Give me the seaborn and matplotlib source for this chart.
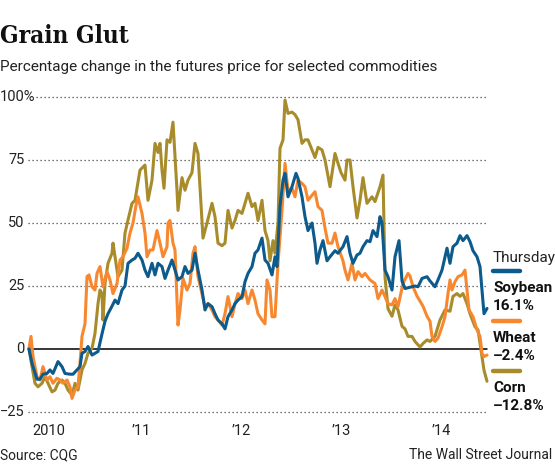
import matplotlib
matplotlib.use('Agg')
import matplotlib.pyplot as plt
from matplotlib.lines import Line2D
import seaborn as sns
import pandas as pd

# decimal years / percent change since start of 2010
soy_t = [2010.00, 2010.03, 2010.08, 2010.11, 2010.14, 2010.18, 2010.21, 2010.24, 2010.29, 2010.33,
         2010.36, 2010.41, 2010.44, 2010.48, 2010.51, 2010.53, 2010.56, 2010.59, 2010.63, 2010.66,
         2010.69, 2010.73, 2010.76, 2010.79, 2010.83, 2010.86, 2010.89, 2010.93, 2010.96, 2010.99,
         2011.03, 2011.06, 2011.09, 2011.13, 2011.16, 2011.19, 2011.23, 2011.26, 2011.29, 2011.33,
         2011.36, 2011.39, 2011.43, 2011.46, 2011.49, 2011.53, 2011.56, 2011.59, 2011.63, 2011.66,
         2011.69, 2011.73, 2011.76, 2011.79, 2011.83, 2011.86, 2011.89, 2011.93, 2011.96, 2011.99,
         2012.03, 2012.06, 2012.09, 2012.13, 2012.16, 2012.19, 2012.23, 2012.26, 2012.29, 2012.33,
         2012.36, 2012.39, 2012.43, 2012.46, 2012.48, 2012.51, 2012.54, 2012.56, 2012.59, 2012.63,
         2012.67, 2012.69, 2012.73, 2012.76, 2012.79, 2012.83, 2012.86, 2012.88, 2012.91, 2012.94,
         2012.98,
         2013.01, 2013.06, 2013.09, 2013.14, 2013.18, 2013.21, 2013.24, 2013.28, 2013.31, 2013.34,
         2013.38, 2013.41, 2013.44, 2013.48, 2013.51, 2013.53, 2013.56, 2013.59, 2013.63, 2013.66,
         2013.70, 2013.73, 2013.76, 2013.81, 2013.86, 2013.89, 2013.93, 2013.98,
         2014.01, 2014.06, 2014.09, 2014.13, 2014.16, 2014.18, 2014.21, 2014.24, 2014.28, 2014.31,
         2014.34, 2014.38, 2014.41, 2014.44, 2014.48, 2014.51, 2014.53, 2014.55, 2014.58]
soy_v = [0, -5.7, -12, -12, -10, -9.7, -8.3, -9.7, -5, -7,
         -9.7, -10, -10, -8.3, -7, -1.7, -1, 1, -2.4, -1.7,
         -1, 6, 11, 14, 17, 19.4, 18, 23.4, 25, 34,
         35.3, 36, 38, 35.3, 31.3, 28.7, 34, 29.4, 34, 32.7,
         28, 31.3, 35.3, 31.3, 27.4, 28.7, 32.7, 30, 31.3, 38,
         31.3, 23.4, 15.5, 18, 16.8, 14, 11.5, 10, 8, 12.8,
         15.5, 18, 19.4, 20.8, 26.7, 30, 32.7, 38, 39.3, 44,
         35.3, 34, 29.4, 36.6, 32.7, 56.5, 67, 69.7, 60.4, 64.4,
         69.7, 67.7, 60.4, 52.5, 47, 50, 42, 34, 39.3, 43,
         35,
         36.6, 39, 38, 40.6, 44.6, 38, 34, 37.3, 38, 40.6,
         43, 42.6, 47, 44.6, 52.5, 50, 31.3, 28.7, 23.4, 36.6,
         43, 27, 24, 24.5, 25, 24.7, 28, 28.7,
         27, 24.7, 27.4, 31.3, 36.6, 40, 34, 40.6, 42, 45,
         43, 45, 42.6, 39, 36.6, 32.7, 23.4, 14, 16.1]

wheat_t = [2010.00, 2010.02, 2010.04, 2010.08, 2010.11, 2010.14, 2010.18, 2010.21, 2010.24, 2010.28,
           2010.31, 2010.34, 2010.38, 2010.41, 2010.43, 2010.46, 2010.49, 2010.51, 2010.53, 2010.56,
           2010.58, 2010.60, 2010.63, 2010.66, 2010.68, 2010.71, 2010.74, 2010.78, 2010.81, 2010.84,
           2010.88, 2010.91, 2010.94, 2010.98,
           2011.01, 2011.04, 2011.07, 2011.09, 2011.13, 2011.16, 2011.18, 2011.21, 2011.24, 2011.28,
           2011.31, 2011.34, 2011.38, 2011.39, 2011.41, 2011.44, 2011.46, 2011.49, 2011.51,
           2011.54, 2011.58, 2011.61, 2011.64, 2011.66, 2011.69, 2011.73, 2011.76, 2011.79, 2011.83,
           2011.86, 2011.89, 2011.93, 2011.96, 2011.99,
           2012.03, 2012.06, 2012.09, 2012.13, 2012.16, 2012.19, 2012.23, 2012.26, 2012.29, 2012.33,
           2012.36, 2012.38, 2012.41, 2012.43, 2012.46, 2012.49, 2012.53, 2012.56, 2012.59, 2012.63,
           2012.66, 2012.69, 2012.73, 2012.76, 2012.79, 2012.83, 2012.86, 2012.89, 2012.93, 2012.96,
           2012.99,
           2013.03, 2013.06, 2013.09, 2013.14, 2013.16, 2013.19, 2013.23, 2013.26, 2013.29, 2013.33,
           2013.36, 2013.41, 2013.46, 2013.49, 2013.53, 2013.56, 2013.59, 2013.63, 2013.66, 2013.69,
           2013.74, 2013.79, 2013.81, 2013.84, 2013.88, 2013.91, 2013.94, 2013.98,
           2014.01, 2014.03, 2014.06, 2014.09, 2014.13, 2014.16, 2014.19, 2014.21, 2014.23, 2014.26,
           2014.29, 2014.33, 2014.36, 2014.38, 2014.40, 2014.44, 2014.48, 2014.51, 2014.53, 2014.55,
           2014.58]
wheat_v = [0.3, 5, -3, -11, -12.3, -7, -12.3, -11, -13.6, -11.6,
           -12.3, -13.6, -12.3, -15, -19.6, -16.3, -15, -5.7, 5, 10,
           28.7, 29.4, 24.7, 23.4, 30, 32.7, 24.7, 30.7, 27.4, 22,
           26, 35.3, 36.6, 40,
           46, 50, 57, 60.4, 53.8, 46, 36.6, 39.3, 39.3, 47,
           42, 36.6, 40.6, 50, 51, 42, 39.3, 9.5, 15.5,
           28, 23.4, 26, 38, 40.6, 28.7, 22, 16.8, 18, 15.5,
           12.8, 11.5, 9.5, 14, 20.8,
           12.8, 18, 22, 20, 23.4, 18, 23.4, 19.4, 14, 11.5,
           10, 27.4, 23.4, 12.8, 12.8, 34, 55, 73.7, 63, 63.8,
           60.4, 67, 65.7, 64.4, 59, 61, 62.4, 56.5, 55, 48,
           42,
           42, 46, 40.6, 35, 31.3, 27.4, 34, 27.4, 30.7, 28.7,
           30, 27.4, 26, 20, 23.4, 20.8, 18, 17.5, 20, 16.8,
           26, 30, 29, 24.7, 21, 19, 17, 13,
           11, 5, 3, 4.3, 8.8, 12.8, 22, 27.4, 23.4, 26.7,
           28.7, 29.4, 31.3, 23.4, 15.5, 12.8, 7.6, 5, -1.7, -3,
           -2.4]

corn_t = [2010.00, 2010.03, 2010.06, 2010.09, 2010.13, 2010.16, 2010.19, 2010.23, 2010.26, 2010.29,
          2010.33, 2010.36, 2010.39, 2010.43, 2010.46, 2010.49, 2010.53, 2010.56, 2010.59, 2010.63,
          2010.66, 2010.69, 2010.71, 2010.73, 2010.74, 2010.76, 2010.79, 2010.83, 2010.84, 2010.86,
          2010.89, 2010.93, 2010.96, 2010.99,
          2011.03, 2011.06, 2011.11, 2011.16, 2011.19, 2011.23, 2011.26, 2011.29, 2011.31, 2011.33,
          2011.35, 2011.38, 2011.41, 2011.44, 2011.48, 2011.49, 2011.53, 2011.56, 2011.59, 2011.63,
          2011.66, 2011.69, 2011.71, 2011.74, 2011.78, 2011.83, 2011.86, 2011.89, 2011.93, 2011.96,
          2011.99,
          2012.03, 2012.06, 2012.09, 2012.13, 2012.16, 2012.19, 2012.23, 2012.26, 2012.29, 2012.33,
          2012.36, 2012.39, 2012.41, 2012.44, 2012.46, 2012.49, 2012.51, 2012.54, 2012.56, 2012.59,
          2012.63, 2012.66, 2012.69, 2012.73, 2012.76, 2012.79, 2012.83, 2012.86, 2012.89, 2012.93,
          2012.96,
          2013.01, 2013.06, 2013.09, 2013.12, 2013.16, 2013.18, 2013.21, 2013.24, 2013.28, 2013.31,
          2013.34, 2013.38, 2013.43, 2013.46, 2013.51, 2013.54, 2013.56, 2013.59, 2013.63, 2013.66,
          2013.69, 2013.73, 2013.76, 2013.79, 2013.83, 2013.86, 2013.91, 2013.94, 2013.98,
          2014.01, 2014.06, 2014.11, 2014.16, 2014.21, 2014.24, 2014.28, 2014.31, 2014.34, 2014.38,
          2014.41, 2014.46, 2014.49, 2014.53, 2014.55, 2014.58]
corn_v = [0, -7, -13.6, -15, -13.6, -11, -13.6, -17, -16.3, -13.6,
          -12.3, -13.6, -16.3, -18.3, -13.6, -16.3, -8.3, -5.7, -1.7, 0.3,
          6.2, 18, 23.4, 22, 11.5, 26, 34, 38, 42, 36.6,
          28.7, 31.3, 46, 51.2,
          57.8, 59, 71, 73, 59, 67, 81.6, 78, 81.6, 71,
          63.8, 83, 82, 90, 63, 55, 68, 63, 67, 70,
          81.6, 77.6, 64.4, 44, 50, 57.8, 52.5, 42, 41, 42,
          55,
          48, 51, 55, 53.8, 57.8, 61.8, 56.5, 57.8, 51, 59,
          47, 43, 35, 43, 38, 50, 79.6, 83, 98.8, 93.5,
          94, 93, 91, 81.6, 83, 83, 79, 76, 80, 79,
          75,
          64.4, 77.6, 73.7, 70, 67, 75, 75, 64.4, 52, 59,
          68, 57.8, 60.4, 58.5, 64.4, 69, 28.7, 16, 13, 17.5,
          15.5, 9, 8, 5, 5, 3, 0.8, 2.2, 3.6,
          3, 5, 11.5, 15.5, 15, 20.9, 22, 20.9, 22, 18,
          14, 8.8, 7.6, -3, -8.4, -12.8]

commodities = ['Soybean', 'Wheat', 'Corn']
colors = {'Soybean': '#0c5b8c', 'Wheat': '#f7882f', 'Corn': '#a88c2b'}
years = [2010, 2011, 2012, 2013, 2014]
year_labels = ['2010', '\u201911', '\u201912', '\u201913', '\u201914']
grid_levels = [-25, 25, 50, 75, 100]
y_labels = ['\u221225', '25', '50', '75', '100%']

df = pd.concat([
    pd.DataFrame({'t': soy_t, 'pct': soy_v, 'name': 'Soybean'}),
    pd.DataFrame({'t': wheat_t, 'pct': wheat_v, 'name': 'Wheat'}),
    pd.DataFrame({'t': corn_t, 'pct': corn_v, 'name': 'Corn'}),
])

sns.set_style('white')
plt.rcParams['font.family'] = ['Roboto', 'DejaVu Sans']

W, H = 555, 466
fig = plt.figure(figsize=(W / 100, H / 100), dpi=100)
ax = fig.add_axes([28 / W, (H - 412) / H, (487 - 28) / W, (412 - 97) / H])

for lv in grid_levels:
    xmin = 0.017 if lv == 100 else 0
    ax.axhline(lv, xmin=xmin, color='#444444', lw=0.9, ls=(0, (1, 2.2)), zorder=1)
ax.axhline(0, color='black', lw=1.1, zorder=2)

sns.lineplot(data=df, x='t', y='pct', hue='name', hue_order=['Corn', 'Wheat', 'Soybean'],
             palette=colors, estimator=None, sort=False, lw=2.2, legend=False, ax=ax, zorder=3)
for ln in ax.lines:
    ln.set_clip_on(False)

ax.set_xlim(2009.99, 2014.58)
ax.set_ylim(-25, 100)
sns.despine(ax=ax, left=True, bottom=True, top=True, right=True)
ax.set_xlabel('')
ax.set_ylabel('')
ax.set_yticks([])
ax.set_xticks(years)
ax.set_xticklabels([])
ax.tick_params(axis='x', direction='out', length=15, width=1.3, color='#222222')
ax.set_xticks(years[:1], minor=True)
ax.tick_params(axis='x', which='minor', length=15, width=1.8, color='#222222')

for yr, lab in zip(years, year_labels):
    ax.text(yr + 0.03, -32.5, lab, ha='left', va='center', fontsize=10.5, color='#222222',
            clip_on=False)
for lv, lab in zip(grid_levels, y_labels):
    if lv == 100:
        ax.text(-0.061, lv, lab, transform=ax.get_yaxis_transform(), ha='left', va='center',
                fontsize=10.5, color='#222222')
    else:
        ax.text(-0.007, lv, lab, transform=ax.get_yaxis_transform(), ha='right', va='center',
                fontsize=10.5, color='#222222')
ax.text(-0.007, 0, '0', transform=ax.get_yaxis_transform(), ha='right', va='center',
        fontsize=10.5, color='#222222')

fig.text(0, 1 - 36 / H, 'Grain Glut', ha='left', va='center', fontsize=17.5, fontweight='heavy',
         family='DejaVu Serif', fontstretch='condensed', color='#111111')
fig.text(0, 1 - 67 / H, 'Percentage change in the futures price for selected commodities',
         ha='left', va='center', fontsize=11, color='#222222')

# legend block at right
lx = 493 / W
fig.text(lx, 1 - 258 / H, 'Thursday', ha='left', va='center', fontsize=11, color='#222222')
last = {'Soybean': soy_v[-1], 'Wheat': wheat_v[-1], 'Corn': corn_v[-1]}
for i, name in enumerate(commodities):
    y0 = 271 + 50 * i
    fig.add_artist(Line2D([lx, 520 / W], [1 - y0 / H] * 2, color=colors[name], lw=3.2))
    fig.text(lx, 1 - (y0 + 17) / H, name, ha='left', va='center', fontsize=11,
             fontweight='bold', color='#111111')
    val = f'{last[name]:.1f}%'.replace('-', '\u2013')
    fig.text(lx, 1 - (y0 + 35) / H, val, ha='left', va='center', fontsize=11,
             fontweight='bold', color='#111111')

fig.text(0, 1 - 455 / H, 'Source: CQG', ha='left', va='center', fontsize=10, color='#222222')
fig.text(552 / W, 1 - 455 / H, 'The Wall Street Journal', ha='right', va='center', fontsize=10,
         color='#222222')

fig.savefig('out.png', dpi=100)
